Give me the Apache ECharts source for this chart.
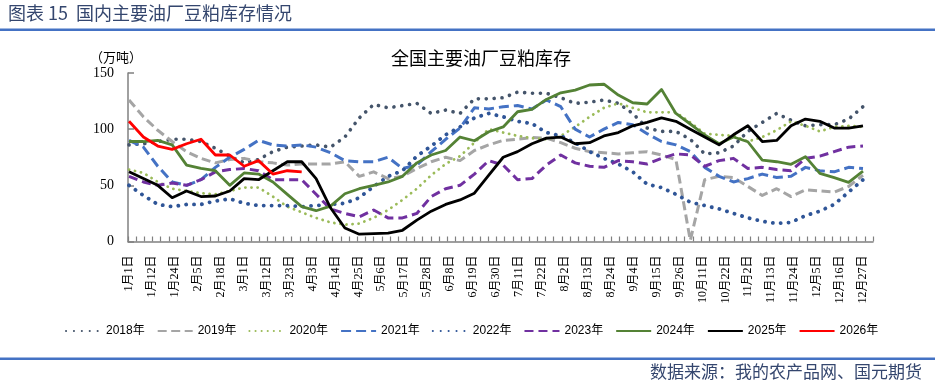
<!DOCTYPE html>
<html><head><meta charset="utf-8">
<script src="https://cdn.jsdelivr.net/npm/echarts@6/dist/echarts.min.js"></script>
<style>html,body{margin:0;padding:0;background:#fff}#c{width:935px;height:385px}</style>
</head><body><div id="c"></div>
<script>
// ---- data ----
const dateLabels = ['1月1日','1月12日','1月24日','2月5日','2月18日','3月1日','3月12日','3月23日','4月3日','4月14日','4月25日','5月6日','5月17日','5月28日','6月8日','6月19日','6月30日','7月11日','7月22日','8月2日','8月13日','8月24日','9月4日','9月15日','9月26日','10月11日','10月22日','11月2日','11月13日','11月24日','12月5日','12月16日','12月27日'];
const weeks = Array.from({length: 52}, (_, i) => '第' + (i + 1) + '周');
const yTicks = [0, 50, 100, 150];

const d2018 = [86,87,89,91,91,89,83,76,70,73, 80,84,85,86,84,93,110,122,119,121, 123,114,117,114,127,127,128,133,132,132, 128,123,124,126,123,114,101,98,98,91, 78,79,85,98,106,114,108,103,104,104, 109,120];
const d2019 = [126,111,99,89,80,74,70,73,74,71, 70,68,69,69,69,71,58,62,56,58, 65,71,75,72,81,86,90,91,92.5,92, 88,83,80,79,78,79,80,77,73,1, 55,58,57,49,41,47,40,46,45,44, 49,59];
const d2020 = [64,61,53,47,45,43,42,45,48,48, 40,31,26,21,17,15,16,21,28,37, 47,59,69,76,88,100,97,94,92,91, 94,102,111,119,123,119,115,115,115,106, 96,95,94,89,93,99,107,103,98,102, 103,102];
const d2021 = [90,84,67,53,50,55,66,75,82,90, 86,85,86,84,79,72,71,71,75,65, 68,80,91,101,119,118,120,121,118,126, 120,100,93,100,106,104,96,89,86,80, 66,58,53,56,60,57,58,66,63,62, 66,65];
const d2022 = [50,41,33,31,33,33,36,38,34,32, 32,32,31,32,33,34,39,49,58,63, 76,85,95,102,110,114,111,107,105,97, 94,88,80,74,69,62,51,48,42,35, 32,29,25,21,18,16,17,23,27,33, 44,55];
const d2023 = [58,53,50,52,50,55,62,64,65,63, 55,55,55,42,29,25,22,28,21,21, 25,40,47,50,60,72,68,55,56,68, 77,70,67,66,72,71,69,74,78,77, 67,72,74,65,66,64,63,74,76,80, 84,85];
const d2024 = [89,89,90,86,68,65,63,50,61,60, 53,42,31,27.4,31.5,42.5,47,50,53,58, 70,77,81,93,89.7,97.7,102,115.5,117.6,126.5, 132.4,134.8,139.3,140,130.4,123.5,122.4,135.4,114,104.6, 94.8,87,93,88.8,72.5,71,68.7,75.5,60.7,56.8, 52.7,62.7];
const d2025 = [62,56,50,39,45,40,40.5,45,56,55, 63,71,71,56,30,12,6.5,7,7.5,10, 19,27,33,37,43,59,75,80,87,92, 93,87,88,94,97,103,106,110,107,100, 93,86,95,103,89,90,103,109,107,101, 101,103];
const d2026 = [107,93,85,82,87,91,77,77,67,72,60,63,62];

// ---- styles ----
const styles = [
  {name:'2018年', data:d2018, color:'#44546A', dash:[0.1,7.8], width:3.6, cap:'round'},
  {name:'2019年', data:d2019, color:'#A5A5A5', dash:[9,4.5], width:3, cap:'butt'},
  {name:'2020年', data:d2020, color:'#9BBB59', dash:[0.1,6], width:2.8, cap:'round'},
  {name:'2021年', data:d2021, color:'#4472C4', dash:[10,5], width:3, cap:'butt'},
  {name:'2022年', data:d2022, color:'#2F5597', dash:[0.1,7.8], width:3.8, cap:'round'},
  {name:'2023年', data:d2023, color:'#7030A0', dash:[9,5], width:3, cap:'butt'},
  {name:'2024年', data:d2024, color:'#548235', dash:'solid', width:2.8, cap:'butt'},
  {name:'2025年', data:d2025, color:'#000000', dash:'solid', width:2.8, cap:'butt'},
  {name:'2026年', data:d2026, color:'#FF0000', dash:'solid', width:2.8, cap:'butt'}
];

const serif = "'Liberation Serif','Noto Sans CJK SC',serif";
const sans = "'Liberation Sans','Noto Sans CJK SC',sans-serif";
const cjk = "'Noto Sans CJK SC',sans-serif";
const axisGray = '#808080';

const chart = echarts.init(document.getElementById('c'), null, {renderer:'canvas'});
chart.setOption({
  backgroundColor:'#ffffff',
  animation:false,
  grid:[
    {left:129, right:72, top:73, height:168.5},
    {left:128, right:62, top:73, height:168.5}
  ],
  xAxis:[
    {gridIndex:0, type:'category', data:dateLabels, boundaryGap:false,
     axisLine:{show:false}, axisTick:{show:false}, splitLine:{show:false},
     axisLabel:{interval:0, rotate:90, margin:14, fontSize:12, color:'#000', fontFamily:serif}},
    {gridIndex:0, type:'category', data:weeks, boundaryGap:false, show:false},
    {gridIndex:1, type:'category', data:new Array(91).fill(''), boundaryGap:true,
     axisLine:{show:true, lineStyle:{color:axisGray, width:1.5}},
     axisTick:{show:true, inside:true, length:5, interval:0, lineStyle:{color:axisGray, width:1.2}},
     axisLabel:{show:false}, splitLine:{show:false}}
  ],
  yAxis:[
    {gridIndex:0, type:'value', min:0, max:150, interval:50, show:false},
    {gridIndex:1, type:'value', min:yTicks[0], max:yTicks[yTicks.length-1], interval:50,
     axisLine:{show:true, lineStyle:{color:axisGray, width:1.5}},
     axisTick:{show:true, inside:true, length:6, lineStyle:{color:axisGray, width:1.5}},
     splitLine:{show:false},
     axisLabel:{margin:14, fontSize:14, color:'#000', fontFamily:serif}}
  ],
  legend:{
    show:true, left:60, top:320, itemWidth:35, itemHeight:12, itemGap:12,
    itemStyle:{opacity:0, borderWidth:0},
    textStyle:{fontSize:12, color:'#000', fontFamily:sans},
    data:styles.map(s => s.name)
  },
  series: styles.map(s => ({
    name:s.name, type:'line', xAxisIndex:1, yAxisIndex:0, data:s.data,
    symbol:'none', smooth:false, silent:true,
    lineStyle:{color:s.color, width:s.width, type:s.dash, cap:s.cap, join:'round'},
    itemStyle:{color:s.color}
  })),
  graphic:[
    {type:'text', left:8, top:4, style:{text:'图表 15  国内主要油厂豆粕库存情况', fontSize:18, fill:'#34466E', fontFamily:cjk}},
    {type:'rect', shape:{x:0, y:28.5, width:935, height:2.5}, style:{fill:'#4472C4'}},
    {type:'rect', shape:{x:0, y:357.5, width:935, height:2.5}, style:{fill:'#4472C4'}},
    {type:'text', x:922, y:372, style:{text:'数据来源：我的农产品网、国元期货', fontSize:17, fill:'#34466E', fontFamily:cjk, align:'right', verticalAlign:'middle'}},
    {type:'text', x:481, y:58, style:{text:'全国主要油厂豆粕库存', fontSize:18, fill:'#000', fontFamily:cjk, align:'center', verticalAlign:'middle'}},
    {type:'text', x:116, y:57, style:{text:'（万吨）', fontSize:13, fill:'#000', fontFamily:cjk, align:'center', verticalAlign:'middle'}}
  ]
});
</script>
</body></html>
